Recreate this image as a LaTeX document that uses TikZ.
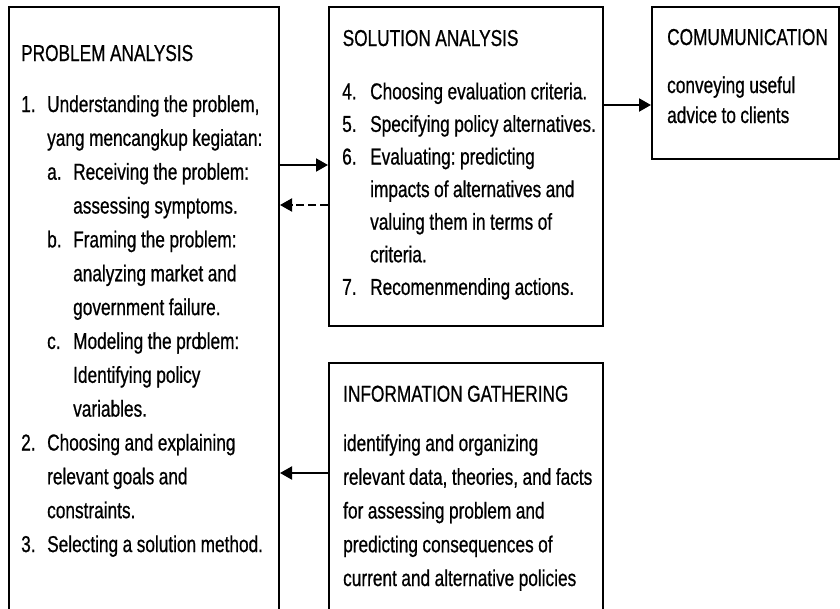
\documentclass[tikz,border=0pt]{standalone}
\usepackage{fontspec}
\setmainfont{Liberation Sans}[FakeStretch=0.75, FakeBold=0.7]
\usetikzlibrary{arrows.meta}

\tikzset{
  box/.style={draw, line width=2pt, inner sep=0pt, anchor=north west},
  txt/.style={anchor=base west, inner sep=0pt, align=left, text width=300pt,
    font={\fontsize{23}{#1}\selectfont},
    execute at begin node={\frenchspacing\spaceskip=4.5pt plus 1pt minus 1pt\xspaceskip=4.5pt\relax}},
  txt/.default=33.85,
  arr/.style={-{Triangle[length=12pt,width=13pt]}, line width=2pt},
}

\begin{document}
\begin{tikzpicture}[x=1pt, y=-1pt]
\useasboundingbox (0,0) rectangle (840,608);
\clip (0,0) rectangle (840,608);

% frames
\node[box, minimum width=270pt, minimum height=620pt] (pa) at (8,6) {};
\node[box, minimum width=274pt, minimum height=319pt] (sa) at (328,6) {};
\node[box, minimum width=187pt, minimum height=152pt] (cm) at (651,6) {};
\node[box, minimum width=274pt, minimum height=260pt] (ig) at (328,362) {};

% problem analysis
\node[txt] (paTitle) at (21,61) {PROBLEM ANALYSIS};
\node[txt=33.85] (paList) at (21,112) {%
\makebox[26pt][l]{1.}Understanding the problem,\\
\hspace*{26pt}yang mencangkup kegiatan:\\
\hspace*{26pt}\makebox[26pt][l]{a.}Receiving the problem:\\
\hspace*{52pt}assessing symptoms.\\
\hspace*{26pt}\makebox[26pt][l]{b.}Framing the problem:\\
\hspace*{52pt}analyzing market and\\
\hspace*{52pt}government failure.\\
\hspace*{26pt}\makebox[26pt][l]{c.}Modeling the pro\kern-4pt blem:\\
\hspace*{52pt}Identifying policy\\
\hspace*{52pt}variables.\\
\makebox[26pt][l]{2.}Choosing and explaining\\
\hspace*{26pt}relevant goals and\\
\hspace*{26pt}constraints.\\
\makebox[26pt][l]{3.}Selecting a solution method.};

% solution analysis
\node[txt] (saTitle) at (342.5,46) {SOLUTION ANALYSIS};
\node[txt=32.6] (saList) at (342,99.3) {%
\makebox[28pt][l]{4.}Choosing evaluation criteria.\\
\makebox[28pt][l]{5.}Specifying policy alternatives.\\
\makebox[28pt][l]{6.}Evaluating: predicting\\
\hspace*{28pt}impacts of alternatives and\\
\hspace*{28pt}valuing them in terms of\\
\hspace*{28pt}criteria.\\
\makebox[28pt][l]{7.}Recomenmending actions.};

% communication
\node[txt] (cmTitle) at (667,45) {COMUMUNICATION};
\node[txt=30] (cmBody) at (667,93) {%
conveying useful\\
advice to clients};

% information gathering
\node[txt] (igTitle) at (343,401.7) {INFORMATION GATHERING};
\node[txt=33.75] (igBody) at (343,451) {%
identifying and organizing\\
relevant data, theories, and facts\\
for assessing problem and\\
predicting consequences of\\
current and alternative policies};

% connectors
\coordinate (yA) at (0,165);
\coordinate (yB) at (0,205);
\coordinate (yC) at (0,105);
\coordinate (yD) at (0,473);
\draw[arr] (pa.east |- yA) -- (sa.west |- yA);
\draw[arr, dash pattern=on 8pt off 4pt] (sa.west |- yB) -- (pa.east |- yB);
\draw[arr] (sa.east |- yC) -- (cm.west |- yC);
\draw[arr] (ig.west |- yD) -- (pa.east |- yD);
\end{tikzpicture}
\end{document}
